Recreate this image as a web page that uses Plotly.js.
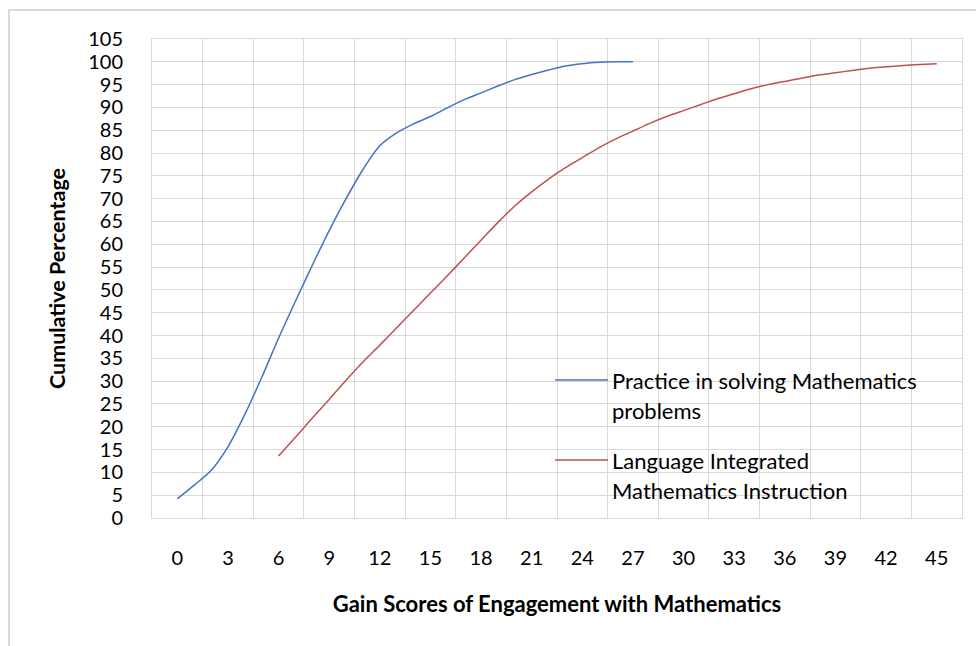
<!DOCTYPE html>
<html>
<head>
<meta charset="utf-8">
<script src="https://cdn.plot.ly/plotly-3.0.1.min.js"></script>
<style>html,body{margin:0;padding:0;background:#fff;}#chart{width:976px;height:646px;}</style>
</head>
<body>
<div id="chart"></div>
<script>
// Gain scores (x) and cumulative percentages (y)
const practiceScores = [0,1,2,3,4,5,6,7,8,9,10,11,12,13,14,15,16,17,18,19,20,21,22,23,24,25,26,27];
const practiceCumPct = [4.2,7.2,10.4,15.6,22.7,30.8,39.4,47.5,55.4,63.0,70.0,76.4,81.6,84.4,86.4,88.0,89.9,91.7,93.2,94.7,96.1,97.2,98.2,99.1,99.6,99.9,100,100];

const limiScores = [6,7,8,9,10,11,12,13,14,15,16,17,18,19,20,21,22,23,24,25,26,27,28,29,30,31,32,33,34,35,36,37,38,39,40,41,42,43,44,45];
const limiCumPct = [13.6,17.7,21.9,26.0,30.2,34.2,37.9,41.7,45.5,49.3,53.1,57.0,60.9,64.8,68.4,71.5,74.3,76.8,79.0,81.2,83.1,84.8,86.5,88.0,89.3,90.6,91.9,93.0,94.1,95.0,95.7,96.4,97.1,97.6,98.1,98.6,98.9,99.2,99.4,99.6];

const xTickVals = [0,3,6,9,12,15,18,21,24,27,30,33,36,39,42,45];
const xTickText = ["0","3","6","9","12","15","18","21","24","27","30","33","36","39","42","45"];

const seriesNames = ["Practice in solving Mathematics problems", "Language Integrated Mathematics Instruction"];
const seriesColors = ["#4472C4", "#C0504D"];

const FONT = "Lato, 'Open Sans', sans-serif";
const GRID = "#d9d9d9";

const traces = [
  {x: practiceScores, y: practiceCumPct, type: "scatter", mode: "lines", name: seriesNames[0],
   line: {color: seriesColors[0], width: 1.5, shape: "spline", smoothing: 0.8}, hoverinfo: "x+y"},
  {x: limiScores, y: limiCumPct, type: "scatter", mode: "lines", name: seriesNames[1],
   line: {color: seriesColors[1], width: 1.5, shape: "spline", smoothing: 0.8}, hoverinfo: "x+y"}
];

// manual legend (line samples + wrapped text)
const legendLines = [
  {label: ["Practice in solving Mathematics", "problems"], color: seriesColors[0], y: 30.25},
  {label: ["Language Integrated", "Mathematics Instruction"], color: seriesColors[1], y: 12.71}
];
const shapes = [
  {type: "rect", xref: "paper", yref: "paper", x0: -0.1765, x1: 1.2, y0: -0.6, y1: 1.0605,
   line: {color: "#d9d9d9", width: 2}, fillcolor: "rgba(0,0,0,0)", layer: "below"}
];
const annotations = [];
legendLines.forEach(function(item){
  shapes.push({type: "line", xref: "x", yref: "y", x0: 22.39, x1: 25.53, y0: item.y, y1: item.y,
               line: {color: item.color, width: 1.5}});
  item.label.forEach(function(t, i){
    annotations.push({xref: "x", yref: "y", x: 25.62, y: item.y - i * 6.58, text: t,
      showarrow: false, xanchor: "left", yanchor: "middle",
      font: {family: FONT, size: 22, color: "#000"}});
  });
});

const layout = {
  width: 976, height: 646,
  margin: {l: 152, r: 14, t: 39, b: 128},
  paper_bgcolor: "#fff", plot_bgcolor: "#fff",
  showlegend: false,
  font: {family: FONT, color: "#000"},
  xaxis: {
    range: [-1.5, 46.5], tickmode: "array", tickvals: xTickVals, ticktext: xTickText,
    showgrid: false, zeroline: false, ticks: "", ticklabelstandoff: 22,
    tickfont: {family: FONT, size: 20, color: "#000"},
    minor: {tick0: -1.5, dtick: 3, showgrid: true, gridcolor: GRID, gridwidth: 1},
    showline: true, linecolor: GRID, linewidth: 1, mirror: true,
    title: {text: "<b>Gain Scores of Engagement with Mathematics</b>", standoff: 28,
            font: {family: FONT, size: 22, color: "#000"}}
  },
  yaxis: {
    range: [0, 105], dtick: 5, tick0: 0, showgrid: true, gridcolor: GRID, gridwidth: 1,
    zeroline: true, zerolinecolor: GRID, zerolinewidth: 1, ticks: "", ticklabelstandoff: 24,
    tickfont: {family: FONT, size: 20, color: "#000"},
    showline: true, linecolor: GRID, linewidth: 1, mirror: true,
    title: {text: "<b>Cumulative Percentage</b>", standoff: 16,
            font: {family: FONT, size: 21.5, color: "#000"}}
  },
  shapes: shapes,
  annotations: annotations
};

Plotly.newPlot("chart", traces, layout, {displayModeBar: false, staticPlot: true});
</script>
</body>
</html>
